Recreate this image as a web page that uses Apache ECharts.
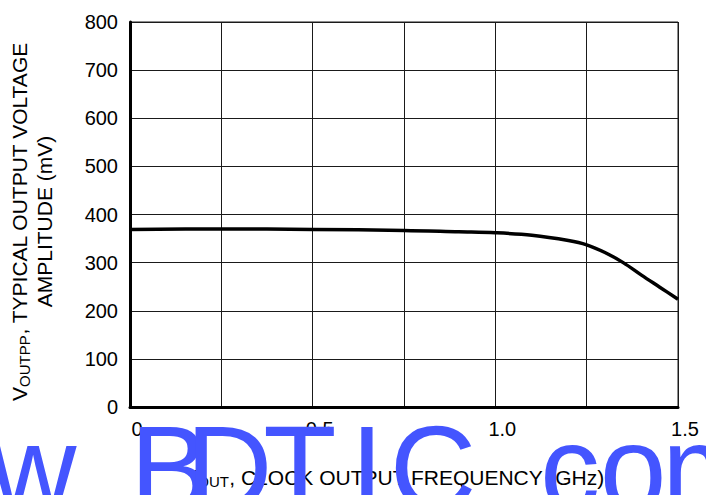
<!DOCTYPE html>
<html><head><meta charset="utf-8">
<script src="https://cdn.jsdelivr.net/npm/echarts@6/dist/echarts.min.js"></script>
<style>html,body{margin:0;padding:0;background:#fff}#c{width:706px;height:495px}</style>
</head><body><div id="c"></div>
<script>
// data
const freqGHz = [0, 0.25, 0.5, 0.75, 0.9, 1.0, 1.1, 1.2, 1.25, 1.3, 1.35, 1.4, 1.45, 1.5];
const voutMv  = [369, 370, 369, 367, 364, 362, 357, 346, 337, 321, 300, 274, 249, 224];
const xTickValues = [0, 0.5, 1.0, 1.5];
const xTickLabels = ['0', '0.5', '1.0', '1.5'];
const yTickLabels = ['0', '100', '200', '300', '400', '500', '600', '700', '800'];
const watermarkChars = ['w', 'w', 'w', '.', 'B', 'D', 'T', 'I', 'C', '.', 'c', 'o', 'm'];
const watermarkX = [-141, -54, 33, 100, 170, 229, 300, 367, 433, 500, 570, 633, 712];

const FONT = '"Liberation Sans", Arial, Helvetica, sans-serif';
const chart = echarts.init(document.getElementById('c'), null, {renderer: 'svg'});

const points = freqGHz.map((f, i) => [f, voutMv[i]]);

chart.setOption({
  animation: false,
  backgroundColor: '#fff',
  grid: {left: 130, right: 28, top: 22, bottom: 88, show: true, borderColor: '#1a1a1a', borderWidth: 1},
  xAxis: {
    type: 'value', min: 0, max: 1.5, interval: 0.25,
    axisLine: {show: true, lineStyle: {color: '#000', width: 3}},
    axisTick: {show: false},
    splitLine: {show: true, lineStyle: {color: '#1a1a1a', width: 1}},
    axisLabel: {
      color: '#000', fontSize: 20, fontFamily: FONT, margin: 12, padding: [0, 0, 0, 14],
      formatter: v => {
        const i = xTickValues.findIndex(t => Math.abs(t - v) < 1e-6);
        return i >= 0 ? xTickLabels[i] : '';
      }
    },
    name: '{n|f}{s|OUT}{n|, CLOCK OUTPUT FREQUENCY (GHz)}',
    nameLocation: 'middle', nameGap: 58,
    nameTextStyle: {
      padding: [0, 12, 0, 0],
      rich: {
        n: {fontSize: 21, fontFamily: FONT, color: '#000', lineHeight: 24},
        s: {fontSize: 15, fontFamily: FONT, color: '#000', lineHeight: 10, verticalAlign: 'bottom'}
      }
    }
  },
  yAxis: {
    type: 'value', min: 0, max: 800, interval: 100,
    axisLine: {show: true, lineStyle: {color: '#000', width: 3}},
    axisTick: {show: false},
    splitLine: {show: true, lineStyle: {color: '#1a1a1a', width: 1}},
    axisLabel: {
      color: '#000', fontSize: 20, fontFamily: FONT, margin: 12,
      formatter: v => yTickLabels[Math.round(v / 100)] ?? ''
    },
    name: '{n|V}{s|OUTPP}{n|, TYPICAL OUTPUT VOLTAGE}\n{n|AMPLITUDE (mV)}',
    nameLocation: 'middle', nameRotate: 90, nameGap: 73,
    nameTextStyle: {
      padding: [0, 14, 0, 0],
      rich: {
        n: {fontSize: 21, fontFamily: FONT, color: '#000', lineHeight: 25},
        s: {fontSize: 15, fontFamily: FONT, color: '#000', lineHeight: 12, verticalAlign: 'bottom'}
      }
    }
  },
  series: [{
    type: 'line', data: points, smooth: 0.35, showSymbol: false,
    lineStyle: {color: '#000', width: 3.5}
  }],
  graphic: watermarkChars.map((ch, i) => ({
    type: 'text', z: 100, silent: true,
    style: {
      text: ch, x: watermarkX[i], y: 468,
      font: '120px ' + FONT, fill: '#4455ff',
      textAlign: 'center', textVerticalAlign: 'middle'
    }
  }))
});
</script></body></html>
